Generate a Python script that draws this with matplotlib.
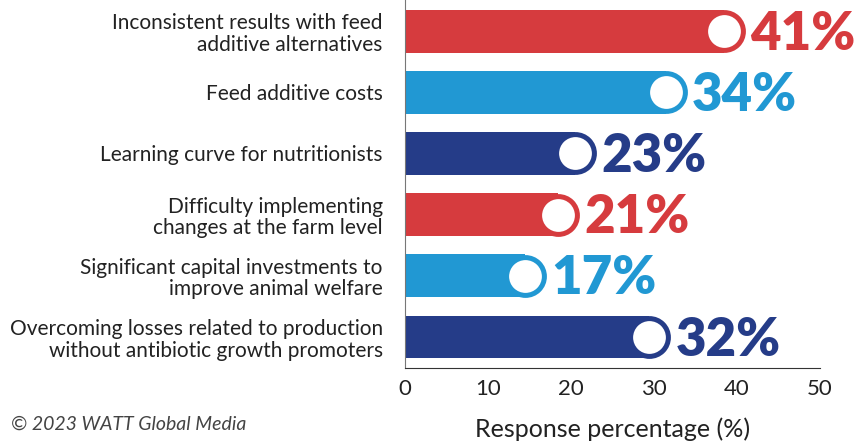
import matplotlib.pyplot as plt

# Survey answers, top to bottom
labels = [
    "Inconsistent results with feed\nadditive alternatives",
    "Feed additive costs",
    "Learning curve for nutritionists",
    "Difficulty implementing\nchanges at the farm level",
    "Significant capital investments to\nimprove animal welfare",
    "Overcoming losses related to production\nwithout antibiotic growth promoters",
]
values = [41, 34, 23, 21, 17, 32]
colors = ["#D63B3E", "#2198D3", "#253C88", "#D63B3E", "#2198D3", "#253C88"]
xticks = [0, 10, 20, 30, 40, 50]

plt.rcParams['font.family'] = ['Lato', 'DejaVu Sans']

fig = plt.figure(figsize=(8.6, 4.43), dpi=100)
ax = fig.add_axes([0.471, 0.169, 0.4825, 0.831])

xmin, xmax = 0, 50
ymin, ymax = -0.51, 5.51
ax.set_xlim(xmin, xmax)
ax.set_ylim(ymax, ymin)

bar_h = 0.70
# size of the rounded end in pixels / points
ax_w_px = fig.get_figwidth() * fig.dpi * 0.4825
ax_h_px = fig.get_figheight() * fig.dpi * 0.831
cap_px = bar_h * ax_h_px / (ymax - ymin)          # bar thickness in px
cap_r = (cap_px / 2) * (xmax - xmin) / ax_w_px     # end radius in x units
ring_pt = 5 * 72 / fig.dpi
outer_pt = cap_px * 72 / fig.dpi

for i, (v, c) in enumerate(zip(values, colors)):
    ax.barh(i, v - cap_r, height=bar_h, color=c, zorder=2)
    ax.plot(v - cap_r, i, marker='o', markersize=outer_pt - ring_pt,
            markerfacecolor='white', markeredgecolor=c,
            markeredgewidth=ring_pt, zorder=3)
    ax.text(v + 0.6, i + 0.05, f"{v}%", color=c, fontsize=38,
            fontweight='heavy', va='center', ha='left', zorder=4)

ax.set_yticks(range(len(labels)))
ax.set_yticklabels(labels, fontsize=15, color='#222222', linespacing=1.1)
ax.set_xticks(xticks)
ax.set_xticklabels([str(t) for t in xticks], fontsize=16, color='#222222')
ax.tick_params(length=0)
ax.tick_params(axis='y', pad=16)
ax.tick_params(axis='x', pad=8)

for side in ['top', 'right']:
    ax.spines[side].set_visible(False)
ax.spines['left'].set_color('#777777')
ax.spines['bottom'].set_color('#333333')

ax.set_xlabel("Response percentage (%)", fontsize=18,
              color='#222222', labelpad=13)

fig.text(0.013, 0.03, "\u00a9 2023 WATT Global Media", fontsize=14,
         style='italic', color='#444444')

fig.savefig("out.png", dpi=100)
